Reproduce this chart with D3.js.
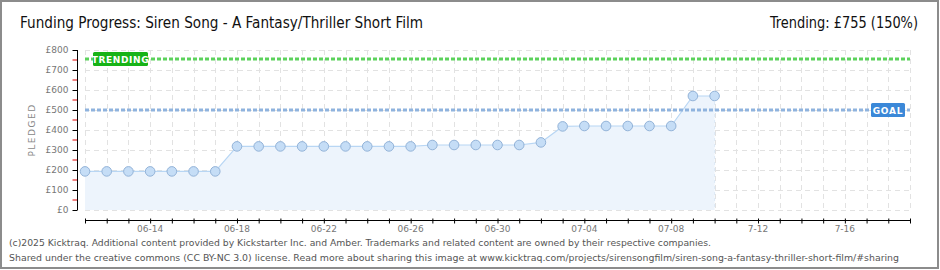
<!DOCTYPE html>
<html><head><meta charset="utf-8">
<script src="https://cdn.jsdelivr.net/npm/d3@7/dist/d3.min.js"></script>
<style>
html,body{margin:0;padding:0;background:#fff;}
svg{display:block;}
</style></head>
<body>
<svg id="chart" width="940" height="270"></svg>
<script>
const dates = ["06-11","06-12","06-13","06-14","06-15","06-16","06-17","06-18","06-19","06-20",
  "06-21","06-22","06-23","06-24","06-25","06-26","06-27","06-28","06-29","06-30",
  "07-01","07-02","07-03","07-04","07-05","07-06","07-07","07-08","07-09","07-10"];
const pledged = [193,193,193,193,193,193,193,318,318,318,
  318,318,318,318,318,318,325,325,325,325,
  325,338,418,420,420,420,420,420,570,570];
const yTicks = [0,100,200,300,400,500,600,700,800];
const xTickLabels = ["06-14","06-18","06-22","06-26","06-30","07-04","07-08","7-12","7-16"];
const goal = 500;
const trending = 755;
const title = "Funding Progress: Siren Song - A Fantasy/Thriller Short Film";
const trendText = "Trending:  £755 (150%)";
const footer1 = "(c)2025 Kicktraq. Additional content provided by Kickstarter Inc. and Amber. Trademarks and related content are owned by their respective companies.";
const footer2 = "Shared under the creative commons (CC BY-NC 3.0) license. Read more about sharing this image at www.kicktraq.com/projects/sirensongfilm/siren-song-a-fantasy-thriller-short-film/#sharing";

const svg = d3.select("#chart");
const parse = s => new Date(2025, +s.slice(0,2)-1, +s.slice(3,5));
const startDay = parse("06-11"), endDay = parse("07-19");
const x = d3.scaleTime().domain([startDay, endDay]).range([85, 910]);
const y = d3.scaleLinear().domain([0, 800]).range([210, 50]);
const allDays = d3.timeDay.range(startDay, d3.timeDay.offset(endDay,1));

// border
svg.append("rect").attr("x",1).attr("y",1).attr("width",937).attr("height",267)
  .attr("fill","none").attr("stroke","#8c8c8c").attr("stroke-width",2);

// title
svg.append("text").attr("x",20).attr("y",28).attr("font-family","DejaVu Sans Condensed, DejaVu Sans")
  .attr("font-size",15).attr("fill","#111").attr("textLength",403).attr("lengthAdjust","spacingAndGlyphs").text(title);
svg.append("text").attr("x",918).attr("y",28).attr("text-anchor","end").attr("font-family","DejaVu Sans Condensed, DejaVu Sans")
  .attr("font-size",15).attr("fill","#111").attr("textLength",148).attr("lengthAdjust","spacingAndGlyphs").text(trendText);

// grid
const grid = svg.append("g").attr("stroke","#e2e2e2").attr("stroke-dasharray","5,4").attr("stroke-width",1);
grid.selectAll("line.v").data(allDays).join("line")
  .attr("x1",d=>Math.round(x(d))+0.5).attr("x2",d=>Math.round(x(d))+0.5).attr("y1",50).attr("y2",210);
grid.selectAll("line.h").data(yTicks).join("line")
  .attr("x1",85).attr("x2",910).attr("y1",d=>Math.round(y(d))+0.5).attr("y2",d=>Math.round(y(d))+0.5);

// area and line
const pts = dates.map((d,i)=>({date:parse(d), v:pledged[i]}));
svg.append("path").datum(pts)
  .attr("d", d3.area().x(d=>x(d.date)).y0(y(0)).y1(d=>y(d.v)))
  .attr("fill","#edf4fc");
svg.append("line").attr("x1",x(pts[pts.length-1].date)).attr("x2",x(pts[pts.length-1].date))
  .attr("y1",y(pts[pts.length-1].v)).attr("y2",y(0)).attr("stroke","#dde9f7").attr("stroke-dasharray","3,3");
svg.append("path").datum(pts)
  .attr("d", d3.line().x(d=>x(d.date)).y(d=>y(d.v)))
  .attr("fill","none").attr("stroke","#b8d6f4").attr("stroke-width",1.2);

// goal & trending lines
svg.append("line").attr("x1",85).attr("x2",910).attr("y1",y(goal)).attr("y2",y(goal))
  .attr("stroke","#8fb3de").attr("stroke-width",3).attr("stroke-dasharray","4,2");
svg.append("line").attr("x1",85).attr("x2",910).attr("y1",y(trending)).attr("y2",y(trending))
  .attr("stroke","#5cd25c").attr("stroke-width",3).attr("stroke-dasharray","4,2");

// points
svg.selectAll("circle.pt").data(pts).join("circle")
  .attr("cx",d=>x(d.date)).attr("cy",d=>y(d.v)).attr("r",4.8)
  .attr("fill","#c5ddf6").attr("stroke","#93b3d8").attr("stroke-width",1);

// labels
const tg = svg.append("g");
tg.append("rect").attr("x",93).attr("y",52).attr("width",55).attr("height",14).attr("rx",1.5).attr("fill","#17b317");
tg.append("text").attr("x",120.5).attr("y",62.5).attr("text-anchor","middle").attr("fill","#fff")
  .attr("font-family","DejaVu Sans").attr("font-weight","bold").attr("font-size",9).attr("letter-spacing",0.6).text("TRENDING");
const gg = svg.append("g");
gg.append("rect").attr("x",871).attr("y",103).attr("width",34).attr("height",14).attr("rx",1.5).attr("fill","#3b88d8");
gg.append("text").attr("x",888).attr("y",113.5).attr("text-anchor","middle").attr("fill","#fff")
  .attr("font-family","DejaVu Sans").attr("font-weight","bold").attr("font-size",9).attr("letter-spacing",0.8).text("GOAL");

// y axis
const yAxis = svg.append("g").attr("transform","translate(77.5,0)")
  .call(d3.axisLeft(y).tickValues(yTicks).tickSize(5).tickFormat(d=>"£"+d));
yAxis.select(".domain").attr("stroke","#000").attr("d","M0,50V210");
yAxis.selectAll(".tick line").attr("stroke","#000");
yAxis.selectAll(".tick text").attr("font-family","DejaVu Sans").attr("font-size",9).attr("fill","#777").attr("x",-9);
const minor = d3.range(50,800,100);
svg.append("g").selectAll("line").data(minor).join("line")
  .attr("x1",72.5).attr("x2",77).attr("y1",d=>y(d)).attr("y2",d=>y(d)).attr("stroke","#e00000");

svg.append("text").attr("transform","translate(35,130) rotate(-90)").attr("text-anchor","middle")
  .attr("font-family","DejaVu Sans").attr("font-size",9).attr("fill","#888").attr("letter-spacing",1.5).text("PLEDGED");

// x axis
const xAxis = svg.append("g").attr("transform","translate(0,220.5)")
  .call(d3.axisBottom(x).tickValues(allDays).tickSize(0).tickFormat(""));
xAxis.select(".domain").attr("stroke","#000").attr("d","M85,0H910");
xAxis.selectAll(".tick").append("line").attr("y1",-2).attr("y2",3).attr("stroke","#000");
const labelDays = allDays.filter((d,i)=>i>=3 && (i-3)%4===0);
svg.append("g").selectAll("text").data(labelDays).join("text")
  .attr("x",d=>x(d)).attr("y",232).attr("text-anchor","middle")
  .attr("font-family","DejaVu Sans").attr("font-size",9).attr("fill","#777")
  .text((d,i)=>xTickLabels[i]);

// footer
svg.append("text").attr("x",9).attr("y",246).attr("font-family","DejaVu Sans Condensed, DejaVu Sans")
  .attr("font-size",9.5).attr("fill","#555").attr("textLength",702).attr("lengthAdjust","spacingAndGlyphs").text(footer1);
svg.append("text").attr("x",9).attr("y",261).attr("font-family","DejaVu Sans Condensed, DejaVu Sans")
  .attr("font-size",9.5).attr("fill","#555").attr("textLength",890).attr("lengthAdjust","spacingAndGlyphs").text(footer2);
</script>
</body></html>
